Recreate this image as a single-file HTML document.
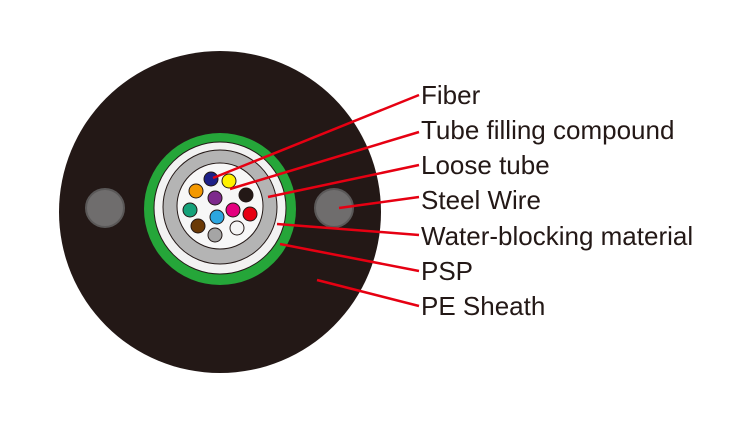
<!DOCTYPE html>
<html><head><style>body{margin:0;background:#fff}svg{display:block}</style></head><body>
<svg width="754" height="423" viewBox="0 0 754 423" xmlns="http://www.w3.org/2000/svg">
<circle cx="220" cy="212" r="161" fill="#231816"/>
<circle cx="105" cy="208" r="19" fill="#6f6d6d" stroke="#5a5858" stroke-width="2"/>
<circle cx="334" cy="208" r="19" fill="#6f6d6d" stroke="#5a5858" stroke-width="2"/>
<circle cx="220" cy="209" r="76" fill="#25a639"/>
<circle cx="220" cy="208" r="66" fill="#f2f2f2" stroke="#231816" stroke-width="1"/>
<circle cx="220" cy="207" r="57" fill="#b4b4b4" stroke="#231816" stroke-width="1"/>
<circle cx="220" cy="206" r="43" fill="#f7f7f7" stroke="#231816" stroke-width="1"/>
<g stroke="#231816" stroke-width="1">
<circle cx="211" cy="179" r="7" fill="#1d2088"/>
<circle cx="229" cy="181" r="7" fill="#fff100"/>
<circle cx="196" cy="191" r="7" fill="#f39800"/>
<circle cx="215" cy="198" r="7" fill="#7d2a8c"/>
<circle cx="246" cy="195" r="7" fill="#231816"/>
<circle cx="190" cy="210" r="7" fill="#16a27a"/>
<circle cx="217" cy="217" r="7" fill="#2ca6e0"/>
<circle cx="233" cy="210" r="7" fill="#e4007f"/>
<circle cx="250" cy="214" r="7" fill="#e60012"/>
<circle cx="198" cy="226" r="7" fill="#6a3906"/>
<circle cx="215" cy="235" r="7" fill="#a5a5a5"/>
<circle cx="237" cy="228" r="7" fill="#f5f5f5"/>
</g>
<g stroke="#e60012" stroke-width="2.5" fill="none">
<line x1="419" y1="95" x2="213" y2="178"/>
<line x1="419" y1="132" x2="230" y2="189"/>
<line x1="419" y1="165" x2="268" y2="197"/>
<line x1="419" y1="197" x2="339" y2="208"/>
<line x1="419" y1="235" x2="277" y2="224"/>
<line x1="419" y1="271" x2="280" y2="244"/>
<line x1="419" y1="306" x2="317" y2="280"/>
</g>
<g font-family="Liberation Sans, sans-serif" font-size="26" fill="#231816">
<text x="421" y="104">Fiber</text>
<text x="421" y="139">Tube filling compound</text>
<text x="421" y="174">Loose tube</text>
<text x="421" y="209">Steel Wire</text>
<text x="421" y="245">Water-blocking material</text>
<text x="421" y="280">PSP</text>
<text x="421" y="315">PE Sheath</text>
</g>
</svg>
</body></html>
